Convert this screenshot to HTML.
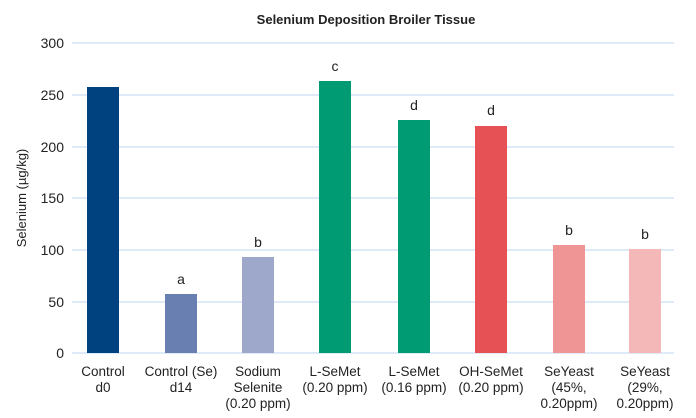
<!DOCTYPE html>
<html><head><meta charset="utf-8"><style>
html,body{margin:0;padding:0;background:#fff;}
svg{display:block;font-family:"Liberation Sans",sans-serif;}
</style></head><body>
<svg width="696" height="418" viewBox="0 0 696 418" xmlns="http://www.w3.org/2000/svg">
<rect width="696" height="418" fill="#fff"/>
<text x="366" y="24" text-anchor="middle" font-size="13" font-weight="bold" fill="#222">Selenium Deposition Broiler Tissue</text>
<g stroke="#d3e4f6" stroke-width="1.5">
<line x1="72" y1="43" x2="674" y2="43"/>
<line x1="72" y1="95" x2="674" y2="95"/>
<line x1="72" y1="147" x2="674" y2="147"/>
<line x1="72" y1="198" x2="674" y2="198"/>
<line x1="72" y1="250" x2="674" y2="250"/>
<line x1="72" y1="302" x2="674" y2="302"/>
<line x1="72" y1="353" x2="674" y2="353"/>
</g>
<g font-size="14" fill="#222" text-anchor="end">
<text x="64" y="48">300</text>
<text x="64" y="100">250</text>
<text x="64" y="152">200</text>
<text x="64" y="203">150</text>
<text x="64" y="255">100</text>
<text x="64" y="307">50</text>
<text x="64" y="358">0</text>
</g>
<text transform="translate(26,198) rotate(-90)" text-anchor="middle" font-size="13" fill="#222">Selenium (µg/kg)</text>
<rect x="87" y="87" width="32" height="266" fill="#00427f"/>
<rect x="165" y="294" width="32" height="59" fill="#6a7fb1"/>
<rect x="242" y="257" width="32" height="96" fill="#9ea8cb"/>
<rect x="319" y="81" width="32" height="272" fill="#009b72"/>
<rect x="398" y="120" width="32" height="233" fill="#009b72"/>
<rect x="475" y="126" width="32" height="227" fill="#e55155"/>
<rect x="553" y="245" width="32" height="108" fill="#f09596"/>
<rect x="629" y="249" width="32" height="104" fill="#f5b8b9"/>
<g font-size="14" fill="#222" text-anchor="middle">
<text x="181" y="284">a</text>
<text x="258" y="247">b</text>
<text x="335" y="71">c</text>
<text x="414" y="110">d</text>
<text x="491" y="115">d</text>
<text x="569" y="235">b</text>
<text x="645" y="239">b</text>
</g>
<g font-size="13.5" fill="#222" text-anchor="middle">
<text x="103" y="376">Control</text><text x="103" y="392">d0</text>
<text x="181" y="376">Control (Se)</text><text x="181" y="392">d14</text>
<text x="258" y="376">Sodium</text><text x="258" y="392">Selenite</text><text x="258" y="408">(0.20 ppm)</text>
<text x="335" y="376">L-SeMet</text><text x="335" y="392">(0.20 ppm)</text>
<text x="414" y="376">L-SeMet</text><text x="414" y="392">(0.16 ppm)</text>
<text x="491" y="376">OH-SeMet</text><text x="491" y="392">(0.20 ppm)</text>
<text x="569" y="376">SeYeast</text><text x="569" y="392">(45%,</text><text x="569" y="408">0.20ppm)</text>
<text x="645" y="376">SeYeast</text><text x="645" y="392">(29%,</text><text x="645" y="408">0.20ppm)</text>
</g>
</svg>
</body></html>
